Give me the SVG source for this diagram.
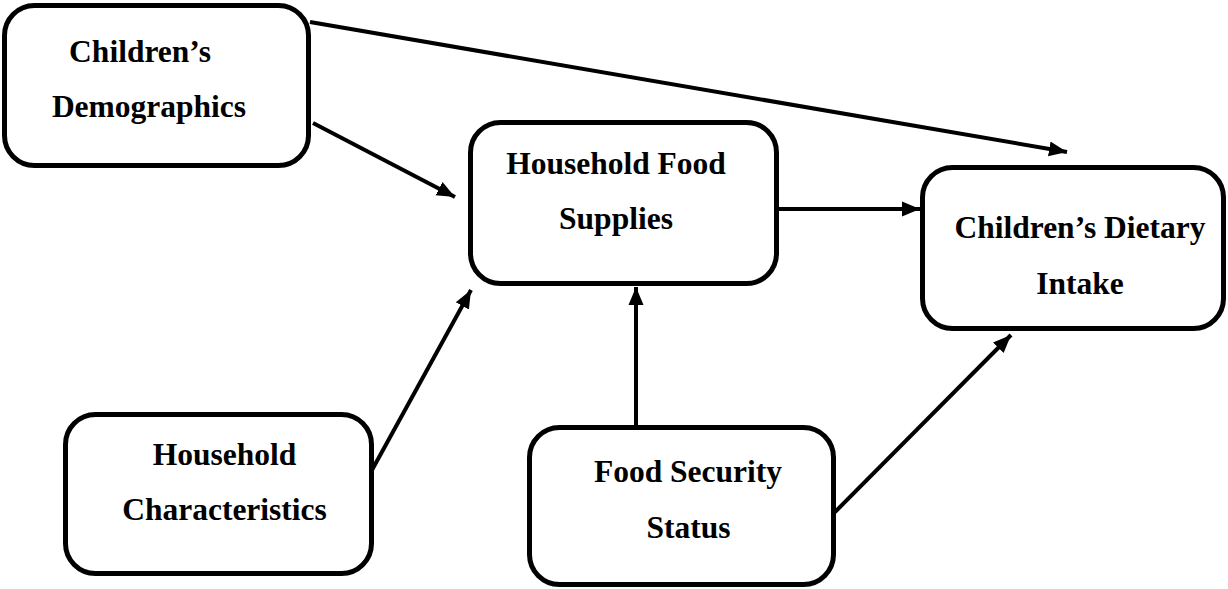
<svg xmlns="http://www.w3.org/2000/svg" width="1228" height="589" viewBox="0 0 1228 589">
<style>
.box{fill:#fff;stroke:#000;stroke-width:5}
.t{font-family:"Liberation Serif","Times New Roman",serif;font-weight:bold;font-size:31.5px;fill:#000;text-anchor:middle}
.c{stroke:#000;stroke-width:4;fill:none;marker-end:url(#ah)}
</style>
<defs>
<marker id="ah" markerUnits="userSpaceOnUse" markerWidth="20" markerHeight="20" viewBox="0 0 20 20" refX="18" refY="10" orient="auto">
<path d="M0,2.5 L18,10 L0,17.5 Z" fill="#000"/>
</marker>
</defs>
<rect width="1228" height="589" fill="#fff"/>
<g id="connectors">
<line class="c" x1="310" y1="22" x2="1067" y2="152"/>
<line class="c" x1="313" y1="123" x2="455" y2="197"/>
<line class="c" x1="372" y1="470" x2="471" y2="290"/>
<line class="c" x1="636" y1="425" x2="636" y2="287"/>
<line class="c" x1="778" y1="209" x2="920" y2="209"/>
<line class="c" x1="835" y1="512" x2="1011" y2="335"/>
</g>
<g id="n1">
<rect class="box" x="4.5" y="5.5" width="304" height="160" rx="30"/>
<text class="t" x="140" y="62">Children’s</text>
<text class="t" x="149" y="117">Demographics</text>
</g>
<g id="n2">
<rect class="box" x="470.5" y="122.5" width="306" height="161" rx="30"/>
<text class="t" x="616" y="174">Household Food</text>
<text class="t" x="616" y="229">Supplies</text>
</g>
<g id="n3">
<rect class="box" x="922.5" y="167.5" width="301" height="161" rx="30"/>
<text class="t" x="1080" y="238">Children’s Dietary</text>
<text class="t" x="1080" y="294">Intake</text>
</g>
<g id="n4">
<rect class="box" x="65.5" y="414.5" width="306" height="159" rx="30"/>
<text class="t" x="224.5" y="465">Household</text>
<text class="t" x="224.5" y="520">Characteristics</text>
</g>
<g id="n5">
<rect class="box" x="529.5" y="427.5" width="304" height="157" rx="30"/>
<text class="t" x="688" y="482">Food Security</text>
<text class="t" x="688.5" y="538">Status</text>
</g>
</svg>
